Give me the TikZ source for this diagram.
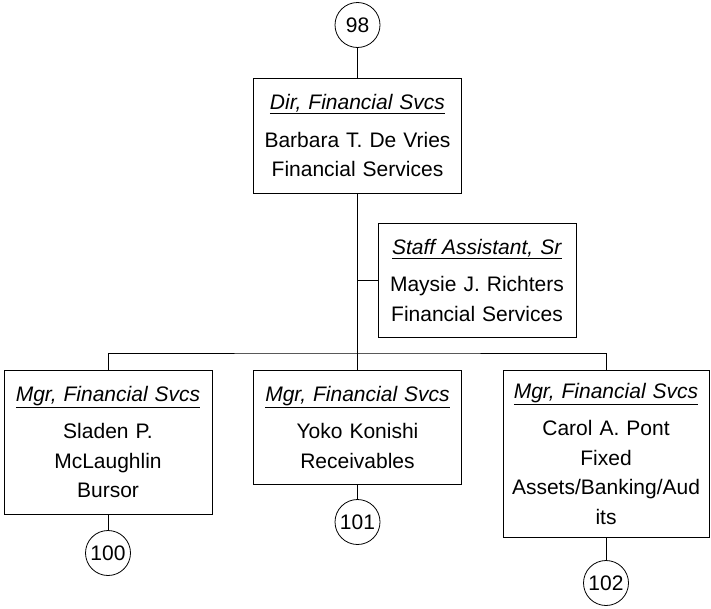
\documentclass[tikz,border=0pt]{standalone}
\usepackage{fontspec}
\setmainfont{Liberation Sans}
\usepackage{tikz}

\newcommand{\postitle}[1]{\underline{\textit{#1}}\\[8pt]}

\tikzset{
  posbox/.style={draw, line width=1pt, inner xsep=3pt, inner ysep=0pt,
    align=center, font=\fontsize{21}{29.5}\selectfont},
  pagecircle/.style={draw, circle, line width=0.8pt, inner sep=0pt,
    minimum size=45pt, font=\fontsize{21}{24}\selectfont},
  link/.style={line width=1pt}
}

\begin{document}
\begin{tikzpicture}[x=1pt, y=-1pt]
    \useasboundingbox (0,0) rectangle (711,608);
    % top of the chart
    \node[pagecircle] (c98) at (357.5, 25) {98};
    \node[posbox, text width=202pt, minimum height=115pt] (dir) at (357.5, 135.5)
      {\postitle{Dir, Financial Svcs}Barbara T. De Vries\\Financial Services};
    \node[posbox, text width=192pt, minimum height=114pt] (staff) at (477, 280)
      {\postitle{Staff Assistant, Sr}Maysie J. Richters\\Financial Services};
    % managers
    \node[posbox, text width=202pt, minimum height=144pt] (mgrA) at (108, 442)
      {\postitle{Mgr, Financial Svcs}Sladen P.\\McLaughlin\\Bursor};
    \node[posbox, text width=202pt, minimum height=114pt] (mgrB) at (357.5, 427)
      {\postitle{Mgr, Financial Svcs}Yoko Konishi\\Receivables};
    \node[posbox, text width=200pt, minimum height=167pt] (mgrC) at (606, 453.5)
      {\postitle{Mgr, Financial Svcs}Carol A. Pont\\Fixed\\Assets/Banking/Aud\\its};
    \node[pagecircle] (c100) at (108, 553) {100};
    \node[pagecircle] (c101) at (357.5, 522) {101};
    \node[pagecircle] (c102) at (606, 583) {102};
    \coordinate (bar) at (357.5, 353);

    \draw[link] (c98) -- (dir);
    \draw[link] (dir.south) -- (mgrB.north);
    \draw[link] (staff.west) -- (staff.west -| dir.south);
    \draw[link] (mgrA.north) |- (bar) -| (mgrC.north);
    \draw[link] (mgrA) -- (c100);
    \draw[link] (mgrB) -- (c101);
    \draw[link] (mgrC) -- (c102);
\end{tikzpicture}
\end{document}
